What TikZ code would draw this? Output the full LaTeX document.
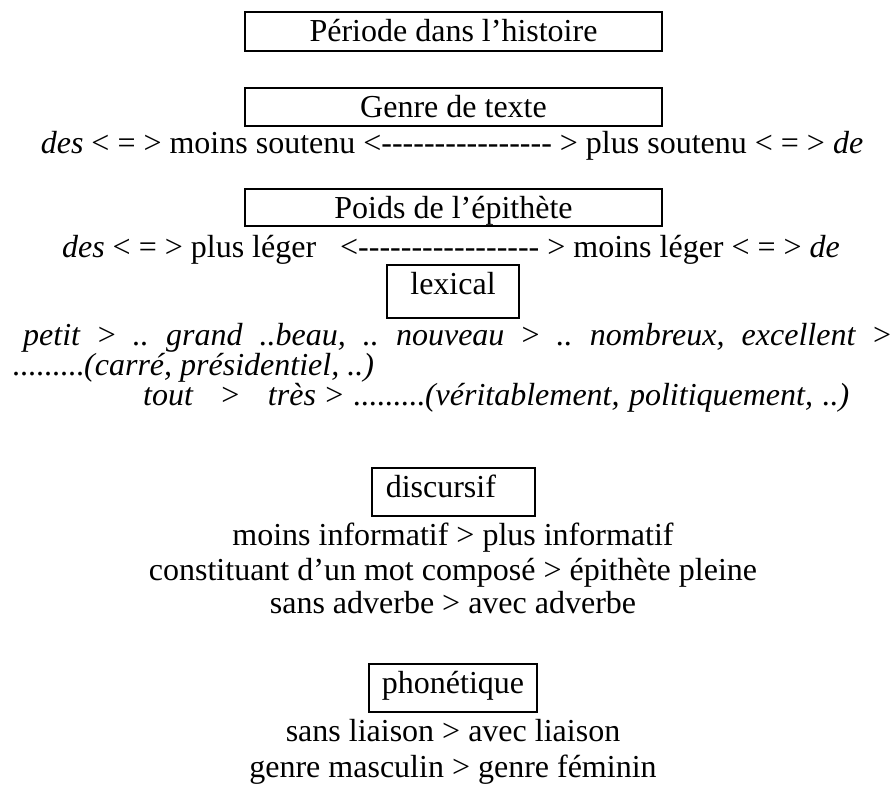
\documentclass[tikz,border=0pt]{standalone}
\usepackage{fontspec}
\setmainfont{Liberation Serif}
\usepackage{tikz}
\frenchspacing

\newcommand{\tirets}[1]{\foreach \k in {1,...,#1}{-\kern0pt}}

\tikzset{
	cadre/.style={draw, line width=1.5pt, inner xsep=0pt, inner ysep=0pt, anchor=base, text height=29pt},
	ligne/.style={inner sep=0pt, anchor=base},
	every node/.style={font=\fontsize{32pt}{35pt}\selectfont}
}

\begin{document}
\begin{tikzpicture}[x=1pt,y=-1pt]
\useasboundingbox (0,0) rectangle (894,785);
% niveaux
\node[cadre, minimum width=417pt, text depth=10pt] (periode) at (453.5,41) {Période dans l’histoire};
\node[cadre, minimum width=417pt, text depth=9pt] (genre) at (453.5,117) {Genre de texte};
\node[ligne] (soutenu) at (452,153) {\textit{des} < = > moins soutenu <\tirets{16} > plus soutenu < = > \textit{de}};
\node[cadre, minimum width=417pt, text depth=8pt] (poids) at (453.5,218) {Poids de l’épithète};
\node[ligne] (leger) at (451,257) {\textit{des} < = > plus léger\ \ \ <\tirets{17} > moins léger < = > \textit{de}};
% lexical
\node[cadre, minimum width=132pt, text depth=24pt] (lexical) at (453,294) {lexical};
\node[ligne, anchor=base west] (petit) at (23,345) {\makebox[868pt][s]{\itshape petit \textup{>} .. grand ..beau, .. nouveau \textup{>} .. nombreux, excellent \textup{>}}};
\node[ligne, anchor=base west] (carre) at (12,375) {.........\textit{(carré, présidentiel, ..)}};
\node[ligne, anchor=base west] (tout) at (143,405) {\makebox[706pt][s]{\itshape tout\ \ \ \textup{>}\ \ \ très \textup{>} \textup{.........}(véritablement, politiquement, ..)}};
% discursif
\node[cadre, anchor=base west, inner xsep=14pt, text depth=19pt] (discursif) at (371,497) {discursif\hspace*{25pt}};
\node[ligne] (info) at (453,545) {moins informatif > plus informatif};
\node[ligne] (compose) at (453,580) {constituant d’un mot composé > épithète pleine};
\node[ligne] (adverbe) at (453,613) {sans adverbe > avec adverbe};
% phonetique
\node[cadre, minimum width=168pt, text depth=19pt] (phonetique) at (453,693) {phonétique};
\node[ligne] (liaison) at (453,741) {sans liaison > avec liaison};
\node[ligne] (masculin) at (453,777) {genre masculin > genre féminin};
\end{tikzpicture}
\end{document}
